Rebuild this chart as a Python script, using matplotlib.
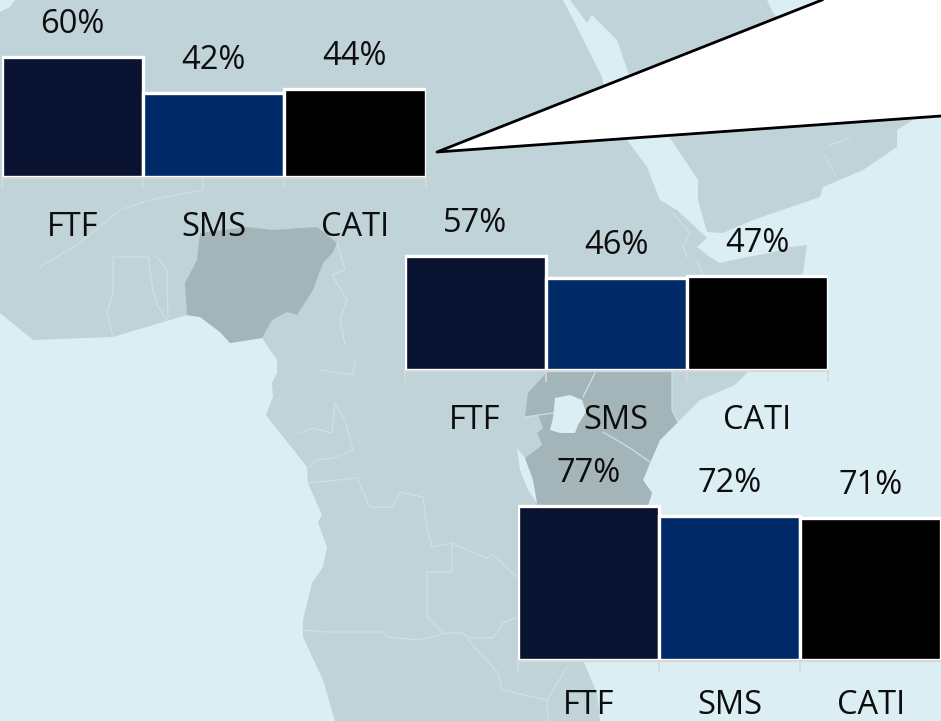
import matplotlib
matplotlib.use("Agg")
import matplotlib.pyplot as plt
from matplotlib.patches import Polygon

W, H = 941, 721
plt.rcParams['font.family'] = ['Open Sans', 'DejaVu Sans']

# ---- chart data ----
categories = ["FTF", "SMS", "CATI"]
chart_a = [60, 42, 44]
chart_b = [57, 46, 47]
chart_c = [77, 72, 71]
bar_colors = ["#0A1432", "#002B68", "#000000"]

# ---- backdrop map outlines, in picture pixels ----
SEA, LAND, DARK, EDGE = "#DAEEF4", "#C0D3D8", "#A4B5B9", "#CFE0E4"
africa = [(0,313),(33,340),(113,337),(170,320),(187,315),(200,317),(220,332),(230,343),(262,338),(277,360),
          (277,373),(272,383),(273,397),(266,415),(307,467),(308,483),(322,515),(318,522),(327,547),(323,567),
          (312,583),(303,620),(303,637),(323,680),(335,721),(600,721),(597,693),(583,660),(652,493),(643,480),
          (650,463),(660,440),(678,422),(700,400),(735,385),(780,340),(803,273),(807,245),(790,247),(770,253),
          (747,257),(720,263),(710,257),(697,247),(707,238),(677,210),(660,200),(647,167),(627,140),(603,83),
          (602,77),(577,27),(563,0),(0,0)]
corner_sea = [(0,0),(15,0),(10,7),(0,12)]
arabia = [(570,0),(587,23),(592,15),(617,40),(628,72),(650,110),(670,138),(698,180),(698,200),
          (707,232),(723,233),(753,220),(820,197),(823,187),(863,170),(897,147),(897,130),(913,120),(941,100),
          (941,0),(822,0),(790,30),(773,13),(767,0)]
nigeria = [(200,233),(247,227),(273,230),(317,227),(337,243),(333,252),(323,263),(313,290),(297,315),(287,312),
           (272,320),(262,338),(230,343),(220,332),(200,317),(187,315),(185,283),(197,260)]
east = [(547,372),(528,393),(525,417),(538,415),(543,428),(537,433),(542,445),(525,458),(537,503),(537,600),
        (620,600),(652,493),(643,480),(650,463),(660,440),(678,422),(672,410),(672,372)]
rwanda = [(538,415),(522,423),(517,433),(518,448),(525,458),(542,445),(537,433),(543,428)]
lake = [(555,398),(570,395),(582,400),(586,412),(578,425),(575,433),(560,433),(550,430),(553,418)]
tanganyika = [(517,448),(525,458),(533,480),(537,503),(528,490),(520,470)]
borders = [
    [(113,337),(107,313),(113,293),(113,257),(148,257),(153,290),(157,305),(167,320)],
    [(157,257),(167,270),(168,318)],
    [(40,267),(80,243),(120,210),(150,200),(203,190),(203,178)],
    [(307,470),(317,460),(333,458),(353,450),(345,420),(335,403)],
    [(308,483),(357,478),(370,507),(392,507),(400,492),(423,497),(427,527),(432,547),(452,543),(467,550),
     (487,558),(493,555),(517,577)],
    [(452,543),(452,572),(427,572),(427,617),(443,633)],
    [(302,630),(327,632),(383,632),(387,637),(418,640),(447,633),(463,633),(468,638),(493,638),(503,623),(517,617)],
    [(468,640),(498,673),(502,690),(547,700),(567,667)],
    [(547,700),(548,721)],
    [(300,433),(313,428),(332,433),(335,403)],
    [(320,370),(353,375),(355,360)],
    [(603,432),(630,448),(650,462)],
    [(595,373),(583,397)],
    [(525,417),(553,413)],
    [(672,373),(672,410),(678,422)],
    [(337,243),(345,270),(332,275),(347,300),(340,320),(345,345)],
    [(673,213),(690,233),(683,247),(687,257)],
    [(697,260),(703,277)],
    [(825,155),(835,175)],
    [(830,145),(850,138)],
]
wedge = [(437,152),(822,0),(941,0),(941,116)]

fig = plt.figure(figsize=(W / 100, H / 100), dpi=100, facecolor=SEA)
bg = fig.add_axes([0, 0, 1, 1])
bg.set_xlim(0, W)
bg.set_ylim(H, 0)
bg.axis("off")
for pts, col in [(africa, LAND), (corner_sea, SEA), (arabia, LAND), (nigeria, DARK), (east, DARK),
                 (rwanda, LAND), (lake, SEA), (tanganyika, SEA)]:
    bg.add_patch(Polygon(pts, closed=True, fc=col, ec="none"))
for line in borders:
    bg.plot(*zip(*line), color=EDGE, lw=0.9, solid_joinstyle="round")
bg.add_patch(Polygon(wedge, closed=True, fc="white", ec="none"))
bg.plot([wedge[1][0], wedge[0][0], wedge[3][0]], [wedge[1][1], wedge[0][1], wedge[3][1]], color="black", lw=2)


def small_chart(left, base, values, label_pad):
    """left / base are picture pixels; one value unit is two pixels."""
    width, height = 423.5, 160
    ax = fig.add_axes([left / W, 1 - base / H, width / W, height / H])
    ax.patch.set_alpha(0)
    ax.set_xlim(0, 3)
    ax.set_ylim(0, 80)
    pos = [0.5, 1.5, 2.5]
    bars = ax.bar(pos, values, width=1, color=bar_colors, edgecolor="white", linewidth=2.4, zorder=3)
    ax.bar_label(bars, labels=[f"{v}%" for v in values], padding=11.5, fontsize=23.5, color="#0D0D0D")
    for s in ["top", "left", "right"]:
        ax.spines[s].set_visible(False)
    ax.spines["bottom"].set_color("#D9D9D9")
    ax.spines["bottom"].set_linewidth(1.6)
    ax.spines["bottom"].set_position(("outward", 0.9))
    ax.set_yticks([])
    ax.set_xticks([0, 1, 2, 3])
    ax.set_xticklabels([])
    ax.tick_params(axis="x", which="major", length=8, width=1.2, color="#D9D9D9")
    ax.set_xticks(pos, minor=True)
    ax.set_xticklabels(categories, minor=True, fontsize=23.5, color="#0D0D0D")
    ax.tick_params(axis="x", which="minor", length=0, pad=label_pad)


small_chart(2, 176.5, chart_a, 23.6)
small_chart(404.5, 370, chart_b, 23.6)
small_chart(518, 659.5, chart_c, 20.5)

fig.savefig("out.png", dpi=100, facecolor=SEA)
